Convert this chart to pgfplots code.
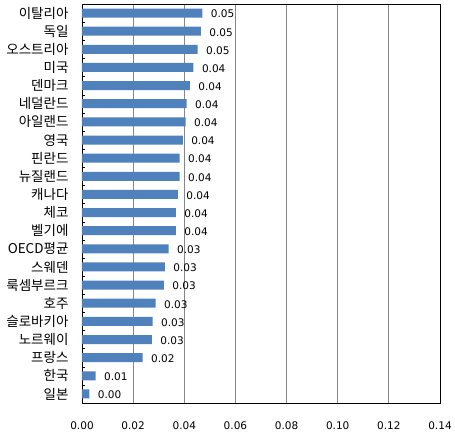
\documentclass[border=0pt]{standalone}
\usepackage{fontspec}
\setmainfont{DejaVu Sans}
\newfontfamily\krfont{Noto Sans CJK KR}
\usepackage{pgfplots}
\usepackage{pgfplotstable}
\pgfplotsset{compat=1.18}
\definecolor{barblue}{HTML}{4F81BD}
\definecolor{gridgray}{HTML}{868686}
\pgfplotstableread[col sep=comma]{
idx,name,value,txt
0,이탈리아,0.0471,0.05
1,독일,0.0465,0.05
2,오스트리아,0.0452,0.05
3,미국,0.0436,0.04
4,덴마크,0.0422,0.04
5,네덜란드,0.0409,0.04
6,아일랜드,0.0405,0.04
7,영국,0.0394,0.04
8,핀란드,0.0382,0.04
9,뉴질랜드,0.0382,0.04
10,캐나다,0.0375,0.04
11,체코,0.0367,0.04
12,벨기에,0.0367,0.04
13,OECD평균,0.0339,0.03
14,스웨덴,0.0324,0.03
15,룩셈부르크,0.0320,0.03
16,호주,0.0288,0.03
17,슬로바키아,0.0276,0.03
18,노르웨이,0.0273,0.03
19,프랑스,0.0237,0.02
20,한국,0.0053,0.01
21,일본,0.0029,0.00
}\datatable
\begin{document}
\begin{tikzpicture}
\path[use as bounding box] (-82pt,-32pt) rectangle (373pt,403pt);
\begin{axis}[
  at={(0,0)}, anchor=south west,
  scale only axis, width=358pt, height=399pt,
  xbar, bar width=9pt,
  xmin=0, xmax=0.14,
  xtick={0,0.02,...,0.14},
  xticklabel style={/pgf/number format/fixed,/pgf/number format/fixed zerofill,/pgf/number format/precision=2, font=\fontsize{10.5}{12}\selectfont, yshift=-15pt},
  /pgf/number format/assume math mode=true,
  scaled x ticks=false,
  xmajorgrids, major grid style={gridgray, line width=0.8pt},
  ymin=-0.5, ymax=21.5, y dir=reverse,
  ytick={0,...,21},
  ytick pos=left,
  yticklabels from table={\datatable}{name},
  yticklabel style={font=\krfont\fontsize{13.5}{15}\selectfont, xshift=-10pt},
  major tick length=0pt,
  extra y ticks={-0.5,0.5,...,21.5},
  extra y tick labels={},
  extra y tick style={major tick length=3pt, tick align=inside, grid=none, tick style={black}},
  axis line style={black, line width=0.8pt},
  nodes near coords,
  point meta=explicit symbolic,
  every node near coord/.style={anchor=west, font=\fontsize{10.5}{12}\selectfont, black, xshift=5pt, yshift=-1pt},
]
\addplot[fill=barblue, draw=none] table[x=value, y=idx, meta=txt]{\datatable};
\end{axis}
\end{tikzpicture}
\end{document}
